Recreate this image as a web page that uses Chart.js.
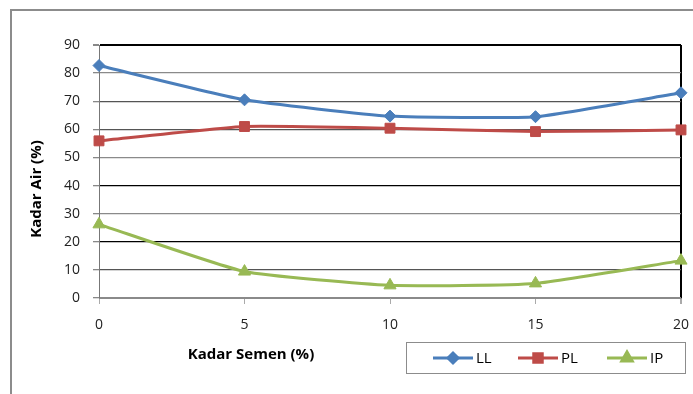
<!DOCTYPE html>
<html>
<head>
<meta charset="utf-8">
<script src="https://cdn.jsdelivr.net/npm/chart.js@4/dist/chart.umd.min.js"></script>
<style>
  html, body { margin: 0; padding: 0; background: #fff; }
  #wrap { width: 693px; height: 394px; }
</style>
</head>
<body>
<div id="wrap"><canvas id="kadar" width="693" height="394"></canvas></div>
<script>
const kadarSemen = [0, 5, 10, 15, 20]
const LL = [82.7, 70.5, 64.7, 64.5, 73]
const PL = [55.9, 61, 60.4, 59.2, 59.8]
const IP = [26.2, 9.4, 4.5, 5.2, 13.3]
const yTicks = [0, 10, 20, 30, 40, 50, 60, 70, 80, 90]

const FONT = "'Open Sans', 'DejaVu Sans', sans-serif"

// gridline shades vary a bit per level
function gridColor(v) {
  if (v === 20 || v === 40 || v === 90) return '#000'
  if (v === 10 || v === 60 || v === 70) return '#555'
  return '#8a8a8a'
}

const series = [
  { label: 'LL', data: LL, color: '#4a7ebb', style: 'rectRot', r: 6 },
  { label: 'PL', data: PL, color: '#be4b48', style: 'rect', r: 7 },
  { label: 'IP', data: IP, color: '#98b954', style: 'triangle', r: 7 }
]

// frame, axis titles and legend box
const decor = {
  id: 'decor',
  afterDraw(chart) {
    const c = chart.ctx
    c.save()
    c.strokeStyle = '#8c8c8c'
    c.lineWidth = 2
    c.strokeRect(11, 10, 700, 400)

    c.fillStyle = '#000'
    c.font = "bold 15px " + FONT
    c.textAlign = 'center'
    c.textBaseline = 'middle'
    c.fillText('Kadar Semen (%)', 251, 355)

    c.translate(37, 189)
    c.rotate(-Math.PI / 2)
    c.fillText('Kadar Air (%)', 0, 0)
    c.restore()

    // legend
    c.save()
    c.strokeStyle = '#8c8c8c'
    c.lineWidth = 1
    c.strokeRect(406.5, 342.5, 279, 31)
    const starts = [433, 518, 607]
    series.forEach((s, i) => {
      const x = starts[i], y = 358
      c.strokeStyle = s.color
      c.lineWidth = 3
      c.beginPath()
      c.moveTo(x, y)
      c.lineTo(x + 40, y)
      c.stroke()
      Chart.helpers.drawPoint(c, {
        pointStyle: s.style, radius: s.r - 1, borderWidth: 1, rotation: 0
      }, x + 20, y)
      c.fillStyle = s.color
      c.fill()
      c.fillStyle = '#000'
      c.font = "15px " + FONT
      c.textAlign = 'left'
      c.textBaseline = 'middle'
      c.fillText(s.label, x + 43, y + 1)
    })
    c.restore()
  }
}

new Chart(document.getElementById('kadar'), {
  type: 'line',
  data: {
    datasets: series.map(s => ({
      label: s.label,
      data: s.data.map((v, i) => ({ x: kadarSemen[i], y: v })),
      borderColor: s.color,
      backgroundColor: s.color,
      borderWidth: 3,
      pointStyle: s.style,
      pointRadius: s.r,
      pointHoverRadius: s.r,
      pointBorderWidth: 1,
      tension: 0.15,
      clip: false
    }))
  },
  options: {
    responsive: false,
    animation: false,
    layout: { autoPadding: false, padding: { top: 45, right: 12, left: 0, bottom: 0 } },
    plugins: { legend: { display: false }, tooltip: { enabled: false } },
    scales: {
      x: {
        type: 'linear',
        min: 0, max: 20,
        afterFit: (scale) => {
          scale.height = 96
          scale.paddingLeft = 0
          scale.paddingRight = 0
        },
        afterBuildTicks: (scale) => { scale.ticks = kadarSemen.map(v => ({ value: v })) },
        border: { color: '#8a8a8a', width: 1 },
        grid: {
          color: (ctx) => ctx.tick && ctx.tick.value === 20 ? '#000' : 'rgba(0,0,0,0)',
          lineWidth: (ctx) => ctx.tick && ctx.tick.value === 20 ? 2 : 1,
          tickColor: '#aaa',
          tickLength: 6
        },
        ticks: { color: '#222', font: { family: FONT, size: 14 }, padding: 13, maxRotation: 0 }
      },
      y: {
        min: 0, max: 90,
        afterFit: (scale) => {
          scale.width = 99
          scale.paddingTop = 0
          scale.paddingBottom = 0
        },
        afterBuildTicks: (scale) => { scale.ticks = yTicks.map(v => ({ value: v })) },
        border: { color: '#777', width: 1 },
        grid: {
          color: (ctx) => gridColor(ctx.tick.value),
          lineWidth: (ctx) => ctx.tick.value === 90 ? 2 : 1.3,
          tickColor: '#888',
          tickLength: 6
        },
        ticks: { color: '#222', font: { family: FONT, size: 14 }, padding: 13 }
      }
    }
  },
  plugins: [decor]
})
</script>
</body>
</html>
